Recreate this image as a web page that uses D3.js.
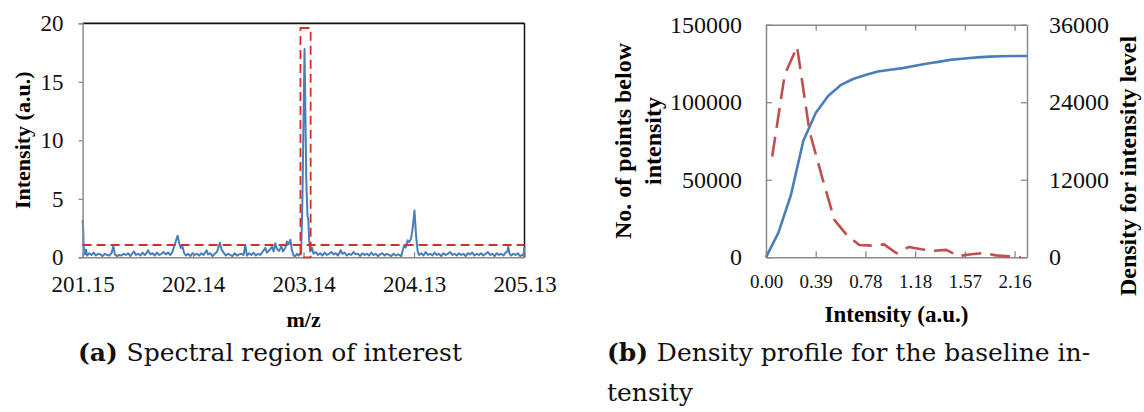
<!DOCTYPE html>
<html>
<head>
<meta charset="utf-8">
<script src="https://cdn.jsdelivr.net/npm/d3@7"></script>
<style>
  html, body { margin: 0; padding: 0; background: #fff; }
  svg { display: block; }
</style>
</head>
<body>
<svg id="fig" width="1144" height="412"></svg>
<script>
// ---------- (a) spectral region ----------
const mzRange = [201.15, 205.13];
const mzTickValues = [201.15, 202.145, 203.14, 204.135, 205.13];
const mzTickLabels = ["201.15", "202.14", "203.14", "204.13", "205.13"];
const intensityTicks = [0, 5, 10, 15, 20];

const spectrumMz = [
  201.150, 201.155, 201.160, 201.170, 201.180, 201.190, 201.210, 201.230, 201.250, 201.270,
  201.290, 201.310, 201.330, 201.350, 201.370, 201.390, 201.410, 201.427, 201.440, 201.460,
  201.480, 201.500, 201.520, 201.540, 201.560, 201.580, 201.595, 201.613, 201.630, 201.650,
  201.670, 201.690, 201.710, 201.725, 201.740, 201.760, 201.780, 201.800, 201.820, 201.840,
  201.860, 201.880, 201.900, 201.920, 201.940, 201.960, 201.980, 202.006, 202.020, 202.035,
  202.050, 202.065, 202.080, 202.100, 202.120, 202.140, 202.160, 202.180, 202.200, 202.220,
  202.240, 202.267, 202.280, 202.300, 202.320, 202.340, 202.360, 202.387, 202.400, 202.420,
  202.440, 202.460, 202.480, 202.500, 202.520, 202.540, 202.560, 202.580, 202.600, 202.615,
  202.630, 202.650, 202.670, 202.690, 202.710, 202.730, 202.750, 202.770, 202.796, 202.810,
  202.830, 202.856, 202.870, 202.886, 202.900, 202.920, 202.940, 202.955, 202.975, 202.991,
  203.005, 203.021, 203.035, 203.050, 203.066, 203.080, 203.095, 203.110, 203.118, 203.130,
  203.140, 203.149, 203.157, 203.165, 203.175, 203.183, 203.190, 203.200, 203.216, 203.230,
  203.250, 203.270, 203.290, 203.310, 203.330, 203.350, 203.370, 203.390, 203.410, 203.430,
  203.450, 203.476, 203.490, 203.510, 203.530, 203.550, 203.570, 203.590, 203.610, 203.630,
  203.650, 203.670, 203.690, 203.710, 203.730, 203.750, 203.770, 203.790, 203.810, 203.830,
  203.850, 203.870, 203.890, 203.910, 203.930, 203.950, 203.970, 203.990, 204.005, 204.020,
  204.047, 204.060, 204.078, 204.092, 204.108, 204.123, 204.139, 204.153, 204.168, 204.180,
  204.200, 204.220, 204.240, 204.260, 204.280, 204.300, 204.320, 204.340, 204.360, 204.380,
  204.400, 204.420, 204.440, 204.460, 204.480, 204.500, 204.520, 204.540, 204.560, 204.580,
  204.600, 204.620, 204.640, 204.660, 204.680, 204.700, 204.720, 204.740, 204.760, 204.780,
  204.800, 204.820, 204.840, 204.860, 204.880, 204.900, 204.920, 204.940, 204.960, 204.975,
  204.984, 204.995, 205.010, 205.030, 205.050, 205.070, 205.090, 205.110, 205.120, 205.130
];
const spectrumIntensity = [
  3.2, 2.5, 1.0, 0.25, 0.65, 0.15, 0.35, 0.2, 0.4, 0.15,
  0.3, 0.25, 0.1, 0.3, 0.2, 0.15, 0.35, 0.95, 0.25, 0.1,
  0.2, 0.15, 0.3, 0.2, 0.35, 0.1, 0.3, 0.5, 0.2, 0.3,
  0.15, 0.4, 0.2, 0.35, 0.6, 0.25, 0.35, 0.15, 0.4, 0.2,
  0.3, 0.45, 0.25, 0.4, 0.2, 0.5, 1.1, 1.85, 1.2, 0.8,
  0.9, 0.35, 0.15, 0.3, 0.1, 0.35, 0.2, 0.3, 0.15, 0.35,
  0.2, 0.6, 0.25, 0.35, 0.1, 0.3, 0.45, 1.25, 0.7, 0.4,
  0.15, 0.3, 0.2, 0.1, 0.35, 0.15, 0.25, 0.3, 0.2, 1.05,
  0.15, 0.35, 0.2, 0.4, 0.15, 0.3, 0.2, 0.45, 0.8, 0.4,
  0.6, 0.9, 0.5, 1.2, 0.7, 0.55, 0.95, 0.5, 0.8, 1.35,
  1.1, 1.5, 0.6, 0.15, 0.1, 0.3, 0.15, 0.3, 0.3, 5.0,
  12.0, 17.8, 12.0, 6.5, 3.6, 3.2, 1.5, 0.5, 0.8, 0.3,
  0.45, 0.2, 0.35, 0.15, 0.4, 0.2, 0.3, 0.45, 0.25, 0.35,
  0.15, 0.6, 0.3, 0.4, 0.15, 0.3, 0.2, 0.45, 0.25, 0.3,
  0.1, 0.35, 0.2, 0.3, 0.15, 0.4, 0.2, 0.3, 0.1, 0.25,
  0.35, 0.15, 0.3, 0.2, 0.1, 0.3, 0.15, 0.25, 0.2, 0.1,
  1.05, 0.85, 1.45, 1.3, 1.6, 2.5, 4.0, 1.9, 0.5, 0.2,
  0.35, 0.15, 0.45, 0.2, 0.3, 0.15, 0.4, 0.2, 0.3, 0.1,
  0.35, 0.2, 0.3, 0.45, 0.2, 0.3, 0.15, 0.35, 0.2, 0.3,
  0.1, 0.35, 0.25, 0.4, 0.15, 0.3, 0.2, 0.35, 0.15, 0.3,
  0.45, 0.2, 0.3, 0.1, 0.35, 0.2, 0.3, 0.15, 0.4, 0.5,
  0.9, 0.3, 0.15, 0.3, 0.2, 0.35, 0.1, 0.2, 0.15, 0.9
];
const baselineThreshold = 1.05;          // dashed baseline cut-off
const peakWindowMz = [203.112, 203.204]; // selected peak window
const peakWindowTop = 19.6;

// ---------- (b) density profile ----------
const intensityLevels = [
  "0.00", "0.10", "0.20", "0.29", "0.39", "0.49", "0.59", "0.69", "0.78", "0.88", "0.98",
  "1.08", "1.18", "1.27", "1.37", "1.47", "1.57", "1.72", "1.86", "2.01", "2.16", "2.31"
];
const levelTickIndex = [0, 4, 8, 12, 16, 20];
const pointsBelow = [
  0, 15900, 40000, 75000, 93000, 104000, 111000, 115000, 117500, 119800, 121000,
  122000, 123500, 125000, 126200, 127500, 128200, 128900, 129400, 129700, 129800, 129800
];
// density per bin between consecutive levels
const densityPerBin = [
  15600, 28200, 32600, 19500, 12500, 5800, 3450, 1900, 1800, 2000, 620,
  1600, 1250, 1000, 1150, 200, 460, 670, 300, 150, 0
];
const countTicks = [0, 50000, 100000, 150000];
const densityTicks = [0, 12000, 24000, 36000];

// ---------- styling ----------
const BLUE = "#4a7ebb";
const RED_A = "#dc2b2b";
const RED_B = "#c0504d";
const GRAY = "#8a8a8a";
const SERIF = "'Liberation Serif', 'Times New Roman', serif";
const CAPTION_FONT = "'DejaVu Serif', serif";

const svg = d3.select("#fig");
svg.append("rect").attr("width", 1144).attr("height", 412).attr("fill", "#fff");

// ================= panel (a) =================
const A = { left: 82.6, right: 524.5, top: 23.3, bottom: 257.3 };
const xA = d3.scaleLinear().domain(mzRange).range([A.left, A.right]);
const yA = d3.scaleLinear().domain([0, 20]).range([A.bottom, A.top]);

const gA = svg.append("g");

// top & right frame (black)
gA.append("line").attr("x1", A.left).attr("x2", A.right).attr("y1", A.top).attr("y2", A.top)
  .attr("stroke", "#111").attr("stroke-width", 1.8);
gA.append("line").attr("x1", A.right).attr("x2", A.right).attr("y1", A.top).attr("y2", A.bottom)
  .attr("stroke", "#111").attr("stroke-width", 1.5);

// spectrum
const spectrum = spectrumMz.map((m, i) => [m, spectrumIntensity[i]]);
gA.append("path").datum(spectrum)
  .attr("fill", "none").attr("stroke", BLUE).attr("stroke-width", 2)
  .attr("stroke-linejoin", "round")
  .attr("d", d3.line().x(d => xA(d[0])).y(d => yA(d[1])));

// y axis
const axA_y = gA.append("g").attr("transform", `translate(${A.left},0)`)
  .call(d3.axisLeft(yA).tickValues(intensityTicks).tickSize(4).tickPadding(15).tickFormat(d3.format("d")));
// x axis
const axA_x = gA.append("g").attr("transform", `translate(0,${A.bottom})`)
  .call(d3.axisBottom(xA).tickValues(mzTickValues).tickSizeInner(-5).tickSizeOuter(0).tickPadding(18)
    .tickFormat((d, i) => mzTickLabels[i]));
[axA_y, axA_x].forEach(ax => {
  ax.select(".domain").attr("stroke", GRAY).attr("stroke-width", 1.5);
  ax.selectAll(".tick line").attr("stroke", GRAY).attr("stroke-width", 1.3);
  ax.selectAll("text").attr("fill", "#111").style("font-family", SERIF).style("font-size", "23px");
});

// threshold line and peak window
gA.append("line")
  .attr("x1", xA(mzRange[0])).attr("x2", xA(mzRange[1]))
  .attr("y1", yA(baselineThreshold)).attr("y2", yA(baselineThreshold))
  .attr("stroke", RED_A).attr("stroke-width", 1.8).attr("stroke-dasharray", "9,5");
gA.append("rect")
  .attr("x", xA(peakWindowMz[0])).attr("width", xA(peakWindowMz[1]) - xA(peakWindowMz[0]))
  .attr("y", yA(peakWindowTop)).attr("height", yA(0) - yA(peakWindowTop))
  .attr("fill", "none").attr("stroke", RED_A).attr("stroke-width", 1.8).attr("stroke-dasharray", "9,5");

// titles
gA.append("text").attr("transform", `translate(22,${(A.top + A.bottom) / 2}) rotate(-90)`)
  .attr("text-anchor", "middle").attr("dy", "0.35em")
  .style("font-family", SERIF).style("font-size", "22px").style("font-weight", "bold")
  .text("Intensity (a.u.)");
gA.append("text").attr("x", (A.left + A.right) / 2).attr("y", 327)
  .attr("text-anchor", "middle")
  .style("font-family", SERIF).style("font-size", "22px").style("font-weight", "bold")
  .text("m/z");

// ================= panel (b) =================
const B = { left: 766, right: 1027, top: 24.7, bottom: 257.3 };
const xLevel = d3.scalePoint().domain(d3.range(intensityLevels.length)).range([B.left, B.right]);
const xBin = d3.scaleBand().domain(d3.range(densityPerBin.length)).range([B.left, B.right]);
const yCount = d3.scaleLinear().domain([0, 150000]).range([B.bottom, B.top]);
const yDensity = d3.scaleLinear().domain([0, 36000]).range([B.bottom, B.top]);

const gB = svg.append("g");

const axB_left = gB.append("g").attr("transform", `translate(${B.left},0)`)
  .call(d3.axisLeft(yCount).tickValues(countTicks).tickSizeInner(-6).tickSizeOuter(0).tickPadding(24)
    .tickFormat(d3.format("d")));
const axB_right = gB.append("g").attr("transform", `translate(${B.right},0)`)
  .call(d3.axisRight(yDensity).tickValues(densityTicks).tickSizeInner(-6).tickSizeOuter(0).tickPadding(22)
    .tickFormat(d3.format("d")));
const axB_bottom = gB.append("g").attr("transform", `translate(0,${B.bottom})`)
  .call(d3.axisBottom(xLevel).tickValues(levelTickIndex).tickSizeInner(-6).tickSizeOuter(0).tickPadding(17)
    .tickFormat(i => intensityLevels[i]));
const axB_top = gB.append("g").attr("transform", `translate(0,${B.top})`)
  .call(d3.axisTop(xLevel).tickValues(levelTickIndex).tickSizeInner(-6).tickSizeOuter(0).tickFormat(""));

[axB_left, axB_right, axB_bottom, axB_top].forEach(ax => {
  ax.select(".domain").attr("stroke", GRAY).attr("stroke-width", 1.5);
  ax.selectAll(".tick line").attr("stroke", GRAY).attr("stroke-width", 1.3);
  ax.selectAll("text").attr("fill", "#111").style("font-family", SERIF).style("font-size", "24px");
});
axB_bottom.selectAll("text").style("font-size", "19px");

// cumulative count
gB.append("path").datum(pointsBelow)
  .attr("fill", "none").attr("stroke", BLUE).attr("stroke-width", 2.6)
  .attr("stroke-linejoin", "round")
  .attr("d", d3.line().x((d, i) => xLevel(i)).y(d => yCount(d)));

// density per bin
gB.append("path").datum(densityPerBin)
  .attr("fill", "none").attr("stroke", RED_B).attr("stroke-width", 2.6)
  .attr("stroke-dasharray", "20,9").attr("stroke-linejoin", "round")
  .attr("d", d3.line().x((d, i) => xBin(i) + xBin.bandwidth() / 2).y(d => yDensity(d)));

// titles
const yMid = (B.top + B.bottom) / 2;
gB.append("text").attr("transform", `translate(622.5,${yMid}) rotate(-90)`)
  .attr("text-anchor", "middle").attr("dy", "0.35em")
  .style("font-family", SERIF).style("font-size", "24px").style("font-weight", "bold")
  .text("No. of points below");
gB.append("text").attr("transform", `translate(653,${yMid}) rotate(-90)`)
  .attr("text-anchor", "middle").attr("dy", "0.35em")
  .style("font-family", SERIF).style("font-size", "24px").style("font-weight", "bold")
  .text("intensity");
gB.append("text").attr("transform", `translate(1128,166) rotate(-90)`)
  .attr("text-anchor", "middle").attr("dy", "0.35em")
  .style("font-family", SERIF).style("font-size", "24px").style("font-weight", "bold")
  .text("Density for intensity level");
gB.append("text").attr("x", (B.left + B.right) / 2).attr("y", 322)
  .attr("text-anchor", "middle")
  .style("font-family", SERIF).style("font-size", "23px").style("font-weight", "bold")
  .text("Intensity (a.u.)");

// ================= captions =================
function caption(x, y, tag, body) {
  const t = svg.append("text").attr("x", x).attr("y", y)
    .style("font-family", CAPTION_FONT).style("font-size", "25px").attr("fill", "#111");
  if (tag) t.append("tspan").style("font-weight", "bold").text(tag + " ");
  t.append("tspan").text(body);
  return t;
}
caption(78, 361, "(a)", "Spectral region of interest");
caption(607, 361, "(b)", "Density profile for the baseline in-");
caption(607, 401, null, "tensity");
</script>
</body>
</html>
